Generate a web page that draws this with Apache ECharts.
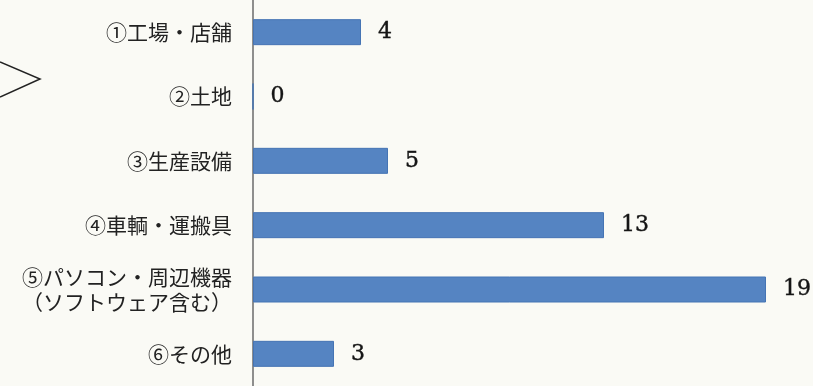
<!DOCTYPE html>
<html><head><meta charset="utf-8">
<script src="https://cdn.jsdelivr.net/npm/echarts@6/dist/echarts.min.js"></script>
<style>html,body{margin:0;padding:0;background:#fafaf5;}#c{width:813px;height:386px;}</style>
</head><body><div id="c"></div>
<script>
const categories = ['①工場・店舗','②土地','③生産設備','④車輌・運搬具','⑤パソコン・周辺機器\n（ソフトウェア含む）','⑥その他'];
const values = [4, 0, 5, 13, 19, 3];

const chart = echarts.init(document.getElementById('c'));
chart.setOption({
  backgroundColor: '#fafaf5',
  animation: false,
  graphic: [{
    type: 'polyline',
    shape: { points: [[0, 62], [40, 79], [0, 97]] },
    style: { stroke: '#222', lineWidth: 1.5, fill: null }
  }],
  grid: { left: 253, top: -5, width: 540, height: 394, containLabel: false },
  xAxis: { type: 'value', min: 0, max: 20, show: false },
  yAxis: {
    type: 'category', data: categories, inverse: true,
    axisLine: { show: true, lineStyle: { color: '#6a6a6a', width: 1.5 } },
    axisTick: { show: false },
    splitLine: { show: false },
    axisLabel: {
      margin: 21, fontSize: 21, color: '#222', lineHeight: 25,
      fontFamily: '"Noto Sans CJK JP", sans-serif', align: 'right'
    }
  },
  series: [{
    type: 'bar', data: values, barWidth: 26,
    itemStyle: { color: '#5584c2', borderColor: '#4574b4', borderWidth: 1 },
    label: {
      show: true, position: 'right', distance: 17,
      fontSize: 22, color: '#151515',
      textBorderColor: '#151515', textBorderWidth: 0.4,
      fontFamily: '"DejaVu Serif", serif'
    }
  }]
});
</script></body></html>
